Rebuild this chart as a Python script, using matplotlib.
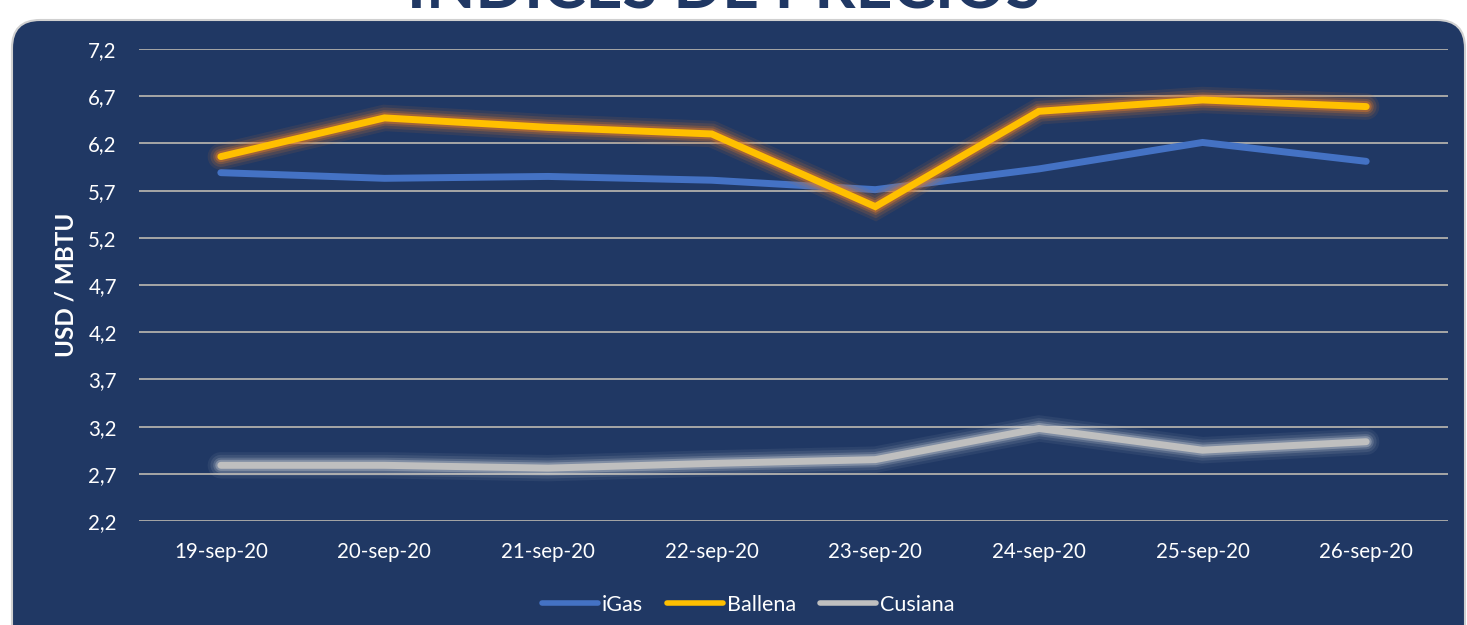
import matplotlib
matplotlib.use("Agg")
import matplotlib.pyplot as plt
import matplotlib.patheffects as pe
from matplotlib.patches import FancyBboxPatch
from matplotlib.transforms import IdentityTransform

# ---------------- data ----------------
dates = ["19-sep-20", "20-sep-20", "21-sep-20", "22-sep-20",
         "23-sep-20", "24-sep-20", "25-sep-20", "26-sep-20"]
igas = [5.89, 5.83, 5.85, 5.81, 5.71, 5.93, 6.21, 6.01]
ballena = [6.06, 6.47, 6.37, 6.30, 5.53, 6.54, 6.66, 6.59]
cusiana = [2.79, 2.79, 2.76, 2.81, 2.85, 3.18, 2.95, 3.04]
yticks = [2.2, 2.7, 3.2, 3.7, 4.2, 4.7, 5.2, 5.7, 6.2, 6.7, 7.2]
ytick_labels = [f"{v:.1f}".replace(".", ",") for v in yticks]
series_names = ["iGas", "Ballena", "Cusiana"]
title_text = "ÍNDICES DE PRECIOS"
ylabel_text = "USD / MBTU"

# ---------------- style ----------------
W, H = 1467, 625
DPI = 100
NAVY = "#203864"
C_IGAS = "#4472C4"
C_BALL = "#FFC000"
C_CUS = "#BFBFBF"
GRID = "#A6A6A6"
FONT = ["Lato", "DejaVu Sans"]

plt.rcParams["font.family"] = FONT

fig = plt.figure(figsize=(W / DPI, H / DPI), dpi=DPI, facecolor="white")

# rounded navy chart background (pixel coordinates)
bg = FancyBboxPatch((12, -40), 1453, 625 - 20 + 40,
                    boxstyle="round,pad=0,rounding_size=28",
                    transform=IdentityTransform(),
                    facecolor=NAVY, edgecolor="#D0D0D0", linewidth=1.5,
                    zorder=0)
fig.add_artist(bg)

# axes
L, R, T, B = 139, 1448, 49, 521
ax = fig.add_axes([L / W, 1 - B / H, (R - L) / W, (B - T) / H])
ax.set_facecolor("none")
for s in ax.spines.values():
    s.set_visible(False)

x = list(range(len(dates)))
ax.set_xlim(-0.5, len(dates) - 0.5)
ax.set_ylim(2.2, 7.2)
ax.set_yticks(yticks)
ax.set_yticklabels(ytick_labels)
ax.set_xticks(x)
ax.set_xticklabels(dates)
ax.tick_params(axis="both", length=0, colors="white", labelsize=14.8)
ax.tick_params(axis="y", pad=16)
ax.tick_params(axis="x", pad=15)
ax.yaxis.grid(True, color=GRID, linewidth=1.4)
ax.set_axisbelow(True)


def glow(color, lw, strength):
    effs = []
    for extra, a in [(14, 0.08 * strength), (10, 0.12 * strength),
                     (6, 0.2 * strength), (3, 0.35 * strength)]:
        effs.append(pe.Stroke(linewidth=lw + extra, foreground=color, alpha=a,
                              capstyle="round", joinstyle="miter"))
    effs.append(pe.Normal())
    return effs


lw = 5.0
l1, = ax.plot(x, igas, color=C_IGAS, lw=lw, solid_capstyle="round",
              solid_joinstyle="miter", label=series_names[0], zorder=3)
l3, = ax.plot(x, cusiana, color=C_CUS, lw=lw, solid_capstyle="round",
              solid_joinstyle="miter", label=series_names[2], zorder=3,
              path_effects=glow("#E8E8E8", lw, 0.8))
l2, = ax.plot(x, ballena, color=C_BALL, lw=lw, solid_capstyle="round",
              solid_joinstyle="miter", label=series_names[1], zorder=4,
              path_effects=glow("#D9782A", lw, 1.3))

ax.set_ylabel(ylabel_text, color="white", fontsize=17.5, fontweight="bold",
              labelpad=8)

# legend
leg = fig.legend([l1, l2, l3], series_names, loc="center",
                 bbox_to_anchor=(748 / W, 1 - 605 / H), ncol=3, frameon=False,
                 fontsize=15.5, handlelength=2.6, handletextpad=0.2,
                 columnspacing=1.1)
for t in leg.get_texts():
    t.set_color("white")
for h in leg.legend_handles:
    h.set_path_effects([pe.Normal()])
    h.set_linewidth(4)

# title, cropped at the very top exactly as in the reference
title = fig.text(724 / W, 1 - 8 / H, title_text, ha="center", va="baseline",
                 color=NAVY, fontsize=40, fontweight="bold")
fig.canvas.draw()
bb = title.get_window_extent()
title.set_fontsize(40 * 634 / bb.width)

fig.savefig("out.png", dpi=DPI, facecolor="white")
